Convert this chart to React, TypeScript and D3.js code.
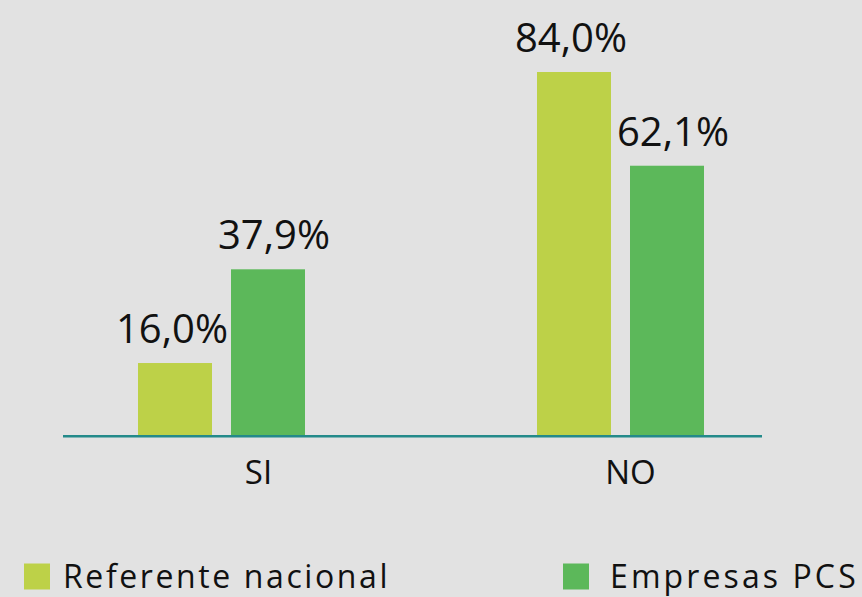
import React from "react";
import * as d3 from "d3";

const categories = ["SI", "NO"];
const seriesNames = ["Referente nacional", "Empresas PCS"];
const referenteValues = [16.0, 84.0];
const empresasValues = [37.9, 62.1];
const valueLabels = [["16,0%", "84,0%"], ["37,9%", "62,1%"]];

const W = 862;
const H = 597;
const colors = ["#bdd148", "#5cb85a"];
const FONT = "'Open Sans', 'DejaVu Sans', sans-serif";

export default function App() {
  const series = [referenteValues, empresasValues];
  const x0 = d3.scaleBand<string>().domain(categories).range([22, 820]);
  const groupW = 167;
  const x1 = d3
    .scaleBand<string>()
    .domain(seriesNames)
    .range([0, groupW])
    .paddingInner(19 / 93)
    .paddingOuter(0);
  const y = d3.scaleLinear().domain([0, 84]).range([431.5, 72]);
  const axisY = 436.3;

  return (
    <svg
      width={W}
      height={H}
      style={{ position: "absolute", left: 0, top: 0, background: "#e2e2e2" }}
      fontFamily={FONT}
    >
      <rect x={0} y={0} width={W} height={H} fill="#e2e2e2" />
      {categories.map((c, ci) => {
        const gx = (x0(c) ?? 0) + x0.bandwidth() / 2 - groupW / 2;
        return (
          <g key={c} transform={`translate(${gx},0)`}>
            {seriesNames.map((s, si) => {
              const v = series[si][ci];
              const bx = x1(s) ?? 0;
              return (
                <g key={s}>
                  <rect
                    x={bx}
                    y={y(v)}
                    width={x1.bandwidth()}
                    height={axisY - y(v)}
                    fill={colors[si]}
                  />
                  <text
                    x={bx + x1.bandwidth() / 2 + (si === 0 ? -3 : 6)}
                    y={y(v) - 20}
                    textAnchor="middle"
                    fontSize={40}
                    fill="#111"
                  >
                    {valueLabels[si][ci]}
                  </text>
                </g>
              );
            })}
          </g>
        );
      })}
      <line x1={63} x2={762} y1={axisY} y2={axisY} stroke="#238a8a" strokeWidth={2.6} />
      {categories.map((c) => (
        <text
          key={c}
          x={(x0(c) ?? 0) + x0.bandwidth() / 2 + (c === "SI" ? 37 : 10)}
          y={484}
          textAnchor="middle"
          fontSize={33}
          fill="#111"
        >
          {c}
        </text>
      ))}
      {seriesNames.map((s, si) => {
        const lx = si === 0 ? 24 : 563;
        return (
          <g key={s}>
            <rect x={lx} y={563.5} width={26} height={26} fill={colors[si]} />
            <text
              x={lx + (si === 0 ? 39 : 47)}
              y={588}
              fontSize={32}
              letterSpacing={si === 0 ? 2.6 : 3.1}
              fill="#111"
            >
              {s}
            </text>
          </g>
        );
      })}
    </svg>
  );
}
